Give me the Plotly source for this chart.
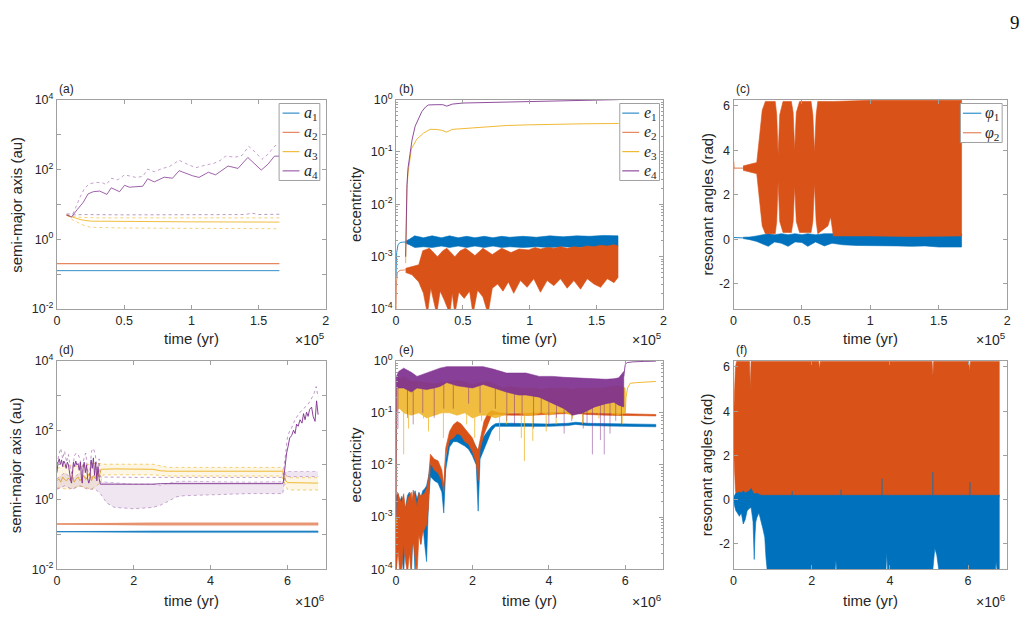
import numpy as np
import plotly.graph_objects as go
from plotly.subplots import make_subplots

W, H = 1030, 622
BLUE, ORANGE, YELLOW, PURPLE = '#0072BD', '#D95319', '#EDB120', '#7E2F8E'
AXC = '#a0a0a0'
TXT = '#262626'
S5, S6 = 1e5, 1e6  # time units: top row x 1e5 yr, bottom row x 1e6 yr

# ======================= (a) semi-major axis, short run =======================
ta_12 = [0.0, 1.655]
a1_a = [0.126, 0.126]
a2_a = [0.200, 0.200]
ta3 = [0.072, 0.12, 0.18, 0.25, 0.5, 1.0, 1.655]
a3_a = [4.9, 4.3, 3.6, 3.3, 3.2, 3.15, 3.1]
ta3_apo = [0.072, 0.15, 0.3, 1.655]
a3_apo = [4.9, 4.3, 4.1, 4.1]
ta3_peri = [0.072, 0.12, 0.2, 0.25, 0.5, 1.655]
a3_peri = [4.9, 3.5, 2.5, 2.2, 2.1, 2.0]
ta4 = [0.072, 0.108, 0.15, 0.195, 0.232, 0.27, 0.318, 0.372, 0.404, 0.466, 0.503, 0.539,
       0.638, 0.675, 0.724, 0.798, 0.86, 0.909, 1.008, 1.057, 1.126, 1.18, 1.273, 1.347,
       1.42, 1.52, 1.57, 1.618, 1.655]
a4_a = [5.0, 4.3, 7.0, 11.3, 20, 23, 24, 19.3, 29.7, 23, 35, 31, 33, 54, 44, 60, 56, 92, 66, 59,
        83, 70, 125, 107, 220, 96, 141, 240, 240]
ta4_apo = [0.072, 0.121, 0.170, 0.207, 0.244, 0.293, 0.342, 0.367, 0.404, 0.453, 0.503, 0.589,
           0.638, 0.675, 0.724, 0.786, 0.835, 0.909, 0.958, 1.032, 1.106, 1.168, 1.217, 1.254,
           1.328, 1.377, 1.426, 1.476, 1.525, 1.574, 1.623, 1.655]
a4_apo = [5.3, 5.5, 15.5, 29.7, 39, 42.5, 41, 36.6, 56, 50.5, 70, 59, 63, 102, 86, 107, 120, 183,
          148, 112, 133, 150, 183, 240, 225, 252, 460, 310, 195, 282, 480, 500]
ta4_peri = [0.072, 0.2, 0.5, 1.0, 1.4, 1.45, 1.5, 1.655]
a4_peri = [4.9, 5.1, 5.0, 5.0, 5.1, 5.6, 5.1, 5.2]

# ======================= (b) eccentricity, short run ==========================
tb_e1s = [0, 0.005, 0.015, 0.03, 0.05, 0.072]
e1_bs = [4e-4, 1.2e-3, 1.7e-3, 1.85e-3, 1.9e-3, 1.9e-3]
tb_e1 = [0.072, 0.1, 0.14, 0.205, 0.27, 0.34, 0.40, 0.465, 0.53, 0.59, 0.66, 0.725, 0.79, 0.85,
         0.95, 1.05, 1.15, 1.25, 1.35, 1.45, 1.55, 1.66]
e1_b_hi = [2.0e-3, 2.15e-3, 2.5e-3, 2.3e-3, 2.5e-3, 2.3e-3, 2.5e-3, 2.3e-3, 2.45e-3, 2.3e-3, 2.45e-3,
           2.3e-3, 2.45e-3, 2.35e-3, 2.45e-3, 2.35e-3, 2.5e-3, 2.4e-3, 2.5e-3, 2.45e-3, 2.55e-3, 2.5e-3]
e1_b_lo = [1.8e-3, 1.7e-3, 1.5e-3, 1.55e-3, 1.5e-3, 1.6e-3, 1.5e-3, 1.6e-3, 1.5e-3, 1.6e-3, 1.5e-3,
           1.6e-3, 1.5e-3, 1.55e-3, 1.5e-3, 1.55e-3, 1.5e-3, 1.55e-3, 1.5e-3, 1.55e-3, 1.5e-3, 1.55e-3]
tb_e2s = [0, 0.003, 0.01, 0.03, 0.072]
e2_bs = [1e-4, 3e-4, 5e-4, 5.5e-4, 5.6e-4]
tb_e2u = [0.072, 0.12, 0.17, 0.20, 0.25, 0.31, 0.35, 0.38, 0.44, 0.48, 0.52, 0.59, 0.65, 0.72,
          0.79, 0.86, 0.92, 0.99, 1.04, 1.08, 1.13, 1.18, 1.23, 1.28, 1.33, 1.38, 1.43, 1.48,
          1.53, 1.58, 1.63, 1.66]
e2_b_hi = [6.0e-4, 6.5e-4, 7e-4, 1.3e-3, 1.45e-3, 1.0e-3, 1.3e-3, 1.45e-3, 1.0e-3, 1.3e-3,
           1.45e-3, 1.05e-3, 1.45e-3, 1.1e-3, 1.45e-3, 1.2e-3, 1.4e-3, 1.35e-3, 1.5e-3, 1.4e-3,
           1.5e-3, 1.45e-3, 1.55e-3, 1.45e-3, 1.55e-3, 1.5e-3, 1.6e-3, 1.55e-3, 1.65e-3, 1.6e-3,
           1.7e-3, 1.6e-3]
tb_e2l = [0.072, 0.12, 0.17, 0.205, 0.235, 0.26, 0.29, 0.304, 0.33, 0.36, 0.403, 0.42, 0.44,
          0.47, 0.51, 0.55, 0.576, 0.61, 0.65, 0.688, 0.72, 0.76, 0.8, 0.84, 0.88, 0.93, 0.98,
          1.03, 1.08, 1.13, 1.18, 1.23, 1.28, 1.33, 1.38, 1.43, 1.48, 1.53, 1.58, 1.63, 1.66]
e2_b_lo = [5.0e-4, 4.5e-4, 3.3e-4, 2.0e-4, 0.8e-4, 2.5e-4, 1.2e-4, 0.8e-4, 2.2e-4, 1.5e-4,
           0.8e-4, 2.0e-4, 0.8e-4, 2.1e-4, 1.6e-4, 2.2e-4, 0.8e-4, 2.3e-4, 1.7e-4, 0.8e-4,
           2.5e-4, 3.0e-4, 2.2e-4, 3.3e-4, 2.0e-4, 3.5e-4, 2.6e-4, 3.8e-4, 2.1e-4, 3.5e-4,
           2.8e-4, 3.8e-4, 2.5e-4, 3.5e-4, 2.4e-4, 3.8e-4, 3.0e-4, 2.6e-4, 3.8e-4, 3.2e-4, 4.0e-4]
tb_e3 = [0.072, 0.076, 0.082, 0.09, 0.1, 0.115, 0.156, 0.206, 0.255, 0.3, 0.34, 0.379, 0.42,
         0.5, 0.576, 0.7, 0.824, 1.0, 1.2, 1.4, 1.666]
e3_b = [7.5e-4, 4e-3, 0.02, 0.04, 0.06, 0.115, 0.176, 0.23, 0.27, 0.27, 0.26, 0.24, 0.27, 0.28,
        0.29, 0.31, 0.32, 0.33, 0.34, 0.345, 0.35]
tb_e4 = [0.072, 0.074, 0.082, 0.09, 0.106, 0.12, 0.143, 0.17, 0.193, 0.22, 0.242, 0.3, 0.35,
         0.38, 0.42, 0.5, 0.6, 0.7, 0.824, 1.0, 1.2, 1.4, 1.666]
e4_b = [1.0e-3, 3e-3, 0.024, 0.05, 0.1, 0.17, 0.31, 0.45, 0.59, 0.72, 0.79, 0.8, 0.8, 0.75, 0.82,
        0.86, 0.87, 0.88, 0.9, 0.93, 0.95, 0.97, 1.0]

# ======================= (c) resonant angles, short run =======================
tc_p1s = [0, 0.07]
p1_cs = [0.08, 0.06]
tc_p1 = [0.07, 0.12, 0.17, 0.21, 0.254, 0.3, 0.35, 0.399, 0.45, 0.5, 0.543, 0.6, 0.664, 0.72,
         0.8, 0.9, 1.0, 1.1, 1.2, 1.3, 1.4, 1.5, 1.6, 1.667]
p1_c_hi = [0.09, 0.1, 0.15, 0.2, 0.25, 0.2, 0.25, 0.2, 0.25, 0.2, 0.25, 0.2, 0.25, 0.25, 0.25,
           0.25, 0.25, 0.25, 0.25, 0.25, 0.25, 0.25, 0.25, 0.25]
p1_c_lo = [0.03, -0.02, -0.1, -0.2, -0.32, -0.12, -0.18, -0.32, -0.12, -0.15, -0.32, -0.12,
           -0.3, -0.18, -0.25, -0.28, -0.3, -0.3, -0.3, -0.32, -0.3, -0.35, -0.35, -0.35]
tc_p2s = [0, 0.001, 0.003, 0.07]
p2_cs = [0.8, 3.5, 3.2, 3.2]
tc_p2 = [0.07, 0.17, 0.19, 0.21, 0.233, 0.305, 0.316, 0.326, 0.338, 0.362, 0.423, 0.436, 0.447,
         0.459, 0.483, 0.567, 0.58, 0.592, 0.604, 0.616, 0.69, 0.71, 0.73, 1.0, 1.3, 1.667]
p2_c_hi = [3.3, 3.45, 4.6, 5.8, 6.2, 6.2, 5.6, 3.8, 5.6, 6.2, 6.2, 5.7, 4.0, 5.7, 6.2, 6.2, 5.6,
           3.9, 5.6, 6.2, 6.2, 6.2, 6.2, 6.25, 6.25, 6.25]
p2_c_lo = [3.1, 2.95, 1.8, 0.6, 0.25, 0.25, 0.8, 2.6, 0.8, 0.3, 0.3, 0.8, 2.4, 0.8, 0.3, 0.3, 0.8,
           2.5, 0.8, 0.25, 0.6, 1.0, 0.15, 0.15, 0.12, 0.15]

# ======================= (d) semi-major axis, long run ========================
td_a1 = [0, 1.5, 2.5, 6.8]
a1_d = [0.12, 0.12, 0.12, 0.12]
a1_d_hi = [0.121, 0.124, 0.127, 0.127]
a1_d_lo = [0.119, 0.116, 0.113, 0.113]
td_a2 = [0, 1.0, 2.5, 6.8]
a2_d = [0.2, 0.2, 0.2, 0.2]
a2_d_hi = [0.202, 0.205, 0.22, 0.22]
a2_d_lo = [0.198, 0.195, 0.18, 0.18]
td_a3 = [0, 0.05, 0.1, 0.15, 0.2, 0.25, 0.3, 0.35, 0.4, 0.45, 0.5, 0.55, 0.6, 0.65, 0.7, 0.75,
         0.8, 0.85, 0.9, 0.95, 1.0, 1.05, 1.1, 1.15, 1.5, 2.0, 2.5, 2.7, 2.9, 3.5, 4.5, 5.5,
         5.88, 5.92, 5.96, 6.0, 6.05, 6.8]
a3_d = [3.5, 4, 3.2, 4.5, 3.8, 3.5, 4.2, 3.5, 5, 3.2, 4, 4.5, 3.5, 4.2, 5, 3.8, 4.5, 6, 3.5, 5,
        4, 6, 4.5, 7.5, 7.7, 7.6, 7.5, 6.8, 6.6, 6.6, 6.7, 6.7, 6.6, 4, 3.5, 3.1, 3.1, 3.0]
td_a3c = [0, 0.3, 0.6, 0.9, 1.13, 1.2, 2.5, 2.7, 2.9, 5.85, 5.92, 6.0, 6.1, 6.8]
a3c_hi = [8, 10, 9, 11, 11, 10.5, 10.5, 9.5, 8.5, 8.5, 6, 4.5, 4.3, 4.3]
a3c_lo = [2.2, 2.0, 2.5, 2.0, 3.0, 5.2, 5.2, 5.0, 4.8, 4.8, 3, 2.0, 1.9, 1.9]
td_a4 = [0.0, 0.03, 0.06, 0.09, 0.12, 0.15, 0.18, 0.21, 0.24, 0.27,
         0.30, 0.33, 0.36, 0.38, 0.40, 0.43, 0.46, 0.49, 0.52, 0.55,
         0.58, 0.61, 0.64, 0.66, 0.68, 0.71, 0.74, 0.77, 0.80, 0.83,
         0.86, 0.89, 0.92, 0.95, 0.98, 1.01, 1.04, 1.07, 1.10, 1.13,
         1.5, 2.0, 2.5, 2.7, 3.0, 3.5, 4.0, 4.5, 5.0, 5.5,
         5.85, 5.89, 5.93, 5.98, 6.02, 6.06, 6.11, 6.16, 6.2, 6.24,
         6.28, 6.33, 6.38, 6.42, 6.46, 6.5, 6.54, 6.58, 6.63, 6.67,
         6.72, 6.76, 6.8]
a4_d = [6, 12, 15, 10, 14, 9, 13, 11, 8, 12,
        10, 5, 3.5, 3, 6, 12, 9, 13, 10, 11,
        7, 12, 4, 3, 8, 12, 6, 10, 4, 3,
        4, 14, 8, 16, 5, 12, 3.5, 9, 4, 2.8,
        2.8, 2.75, 2.8, 2.9, 2.9, 2.85, 2.85, 2.9, 2.85, 2.9,
        2.9, 3.0, 8, 22, 35, 60, 70, 100, 80, 150,
        130, 200, 160, 300, 200, 330, 250, 400, 460, 250,
        180, 700, 280]
td_a4apo = [0, 0.05, 0.1, 0.15, 0.2, 0.25, 0.3, 0.35, 0.4, 0.45, 0.5, 0.55, 0.6, 0.65, 0.7, 0.75,
            0.8, 0.85, 0.9, 0.95, 1.0, 1.05, 1.1, 1.13, 2.0, 3.0, 4.0, 5.0, 5.88, 5.92, 5.96, 6.0,
            6.05, 6.1, 6.2, 6.3, 6.4, 6.5, 6.6, 6.7, 6.75, 6.8]
a4apo_d = [10, 20, 30, 15, 25, 12, 20, 8, 5, 18, 22, 20, 15, 6, 15, 22, 7, 5, 25, 30, 20, 6, 15,
           4.5, 4.4, 4.3, 4.4, 4.4, 4.4, 10, 30, 60, 90, 110, 200, 300, 400, 500, 700, 1200, 1800,
           900]
td_a4p = [0, 0.2, 0.4, 0.6, 0.8, 1.0, 1.13, 1.3, 1.5, 2.0, 2.5, 2.7, 2.9, 3.1, 3.3, 4.0, 5.0, 5.6,
          5.88, 5.92, 5.96, 6.8]
a4p_hi = [4, 6, 4, 6, 4, 5, 3.3, 3.2, 3.0, 2.8, 2.8, 2.6, 3.0, 3.3, 3.4, 3.3, 3.2, 3.3, 3.3, 4.0,
          6.5, 6.5]
a4p_lo = [2, 2.5, 2, 2.5, 2, 2, 1.5, 0.8, 0.6, 0.55, 0.6, 0.7, 0.9, 1.2, 1.3, 1.4, 1.5, 1.5, 1.5,
          3.0, 4.6, 4.6]

# ======================= (e) eccentricity, long run ===========================
te12 = [0, 0.05, 0.1, 0.15, 0.2, 0.25, 0.3, 0.35, 0.4, 0.42, 0.45, 0.5, 0.55, 0.6, 0.65, 0.7,
        0.75, 0.8, 0.85, 0.9, 1.0, 1.1, 1.2, 1.25, 1.3, 1.4, 1.5, 1.6, 1.7, 1.8, 1.9, 2.0, 2.1,
        2.15, 2.2, 2.3, 2.4, 2.5, 2.6, 2.7, 3.0, 3.5, 4.0, 4.5, 4.7, 5.0, 5.5, 6.0, 6.5, 6.8]
e1_e_hi = [2.5e-3, 2.8e-3, 2.0e-3, 2.5e-3, 1.8e-3, 1.5e-3, 2.6e-3, 3.0e-3, 2.2e-3, 1.5e-3,
           2.5e-3, 3.2e-3, 2.2e-3, 3.0e-3, 2.4e-3, 3.2e-3, 3.5e-3, 4e-3, 6e-3, 1.05e-2,
           9e-3, 8e-3, 6e-3, 3.5e-3, 1.2e-2, 3.5e-2, 4.5e-2, 4.5e-2, 4.2e-2, 4.0e-2,
           3.5e-2, 3.0e-2, 2.2e-2, 1.8e-2, 2.5e-2, 3.5e-2, 4.5e-2, 5.5e-2, 6.2e-2, 6.3e-2,
           6.3e-2, 6.2e-2, 6.1e-2, 6.3e-2, 6.6e-2, 6.3e-2, 6.2e-2, 6.1e-2, 6.1e-2, 6.0e-2]
e1_e_lo = [8e-5, 3e-4, 6e-4, 2e-4, 8e-5, 5e-4, 8e-4, 4e-4, 8e-5, 2e-4,
           6e-4, 8e-5, 5e-4, 8e-4, 3e-4, 8e-4, 3e-4, 1.4e-4, 2.0e-3, 6e-3,
           5e-3, 4.5e-3, 3e-3, 1.2e-3, 8e-3, 2.2e-2, 2.8e-2, 2.8e-2, 2.5e-2, 2.3e-2,
           2.0e-2, 1.5e-2, 1.0e-2, 1.3e-3, 1.3e-2, 2.0e-2, 3.0e-2, 4.5e-2, 5.5e-2, 5.6e-2,
           5.6e-2, 5.5e-2, 5.5e-2, 5.7e-2, 6.0e-2, 5.7e-2, 5.6e-2, 5.5e-2, 5.5e-2, 5.4e-2]
e2_e_hi = [8e-4, 2.9e-3, 2.2e-3, 1.9e-3, 2.8e-3, 1.4e-3, 2.2e-3, 2.5e-3, 3.0e-3, 2.0e-3,
           3.3e-3, 2.5e-3, 1.6e-3, 2.9e-3, 2.5e-3, 2.7e-3, 2.9e-3, 3.5e-3, 5e-3, 1.6e-2,
           1.3e-2, 1.2e-2, 8e-3, 4e-3, 2.1e-2, 4.4e-2, 5.9e-2, 6.8e-2, 6.2e-2, 5.0e-2,
           4.1e-2, 3.3e-2, 2.1e-2, 2.0e-2, 3.0e-2, 6.8e-2, 9.7e-2, 0.11, 0.105, 0.1,
           0.097, 0.097, 0.1, 0.105, 0.105, 0.1, 0.097, 0.095, 0.094, 0.093]
e2_e_lo = [8e-5, 2.5e-4, 8e-5, 1e-4, 3e-4, 1.4e-4, 8e-5, 2e-4, 8e-5, 2.5e-4,
           3.4e-4, 1.5e-4, 8e-5, 4.5e-4, 3e-4, 5e-4, 6e-4, 7e-4, 1.5e-3, 1.1e-2,
           8e-3, 7e-3, 5e-3, 3e-3, 1.5e-2, 3e-2, 3.3e-2, 4e-2, 3.7e-2, 2.8e-2,
           2.5e-2, 1.8e-2, 1.1e-2, 5e-3, 2e-2, 3.8e-2, 6e-2, 9e-2, 9.3e-2, 9.2e-2,
           0.09, 0.09, 0.092, 0.097, 0.098, 0.093, 0.09, 0.088, 0.088, 0.087]
te3s = [0.0, 0.01, 0.02]
e3_es = [7.5e-4, 0.05, 0.3]
te3 = [0.02, 0.05, 0.1, 0.2, 0.4, 0.6, 0.8, 1.0, 1.2, 1.4, 1.6, 1.8, 2.0, 2.2, 2.4, 2.6, 2.8,
       3.0, 3.2, 3.4, 3.6, 3.8, 4.0, 4.2, 4.4, 4.6, 4.8, 5.0, 5.2, 5.4, 5.6, 5.8, 6.0]
e3_e_hi = [0.3, 0.5, 0.45, 0.5, 0.4, 0.4, 0.38, 0.36, 0.38, 0.4, 0.42, 0.4, 0.35, 0.38, 0.4, 0.35,
           0.3, 0.32, 0.3, 0.3, 0.3, 0.28, 0.3, 0.3, 0.3, 0.28, 0.3, 0.3, 0.3, 0.3, 0.32, 0.33, 0.3]
e3_e_lo = [0.1, 0.12, 0.12, 0.1, 0.09, 0.1, 0.08, 0.09, 0.1, 0.1, 0.09, 0.1, 0.08, 0.09, 0.09,
           0.08, 0.09, 0.1, 0.1, 0.09, 0.09, 0.1, 0.09, 0.1, 0.1, 0.09, 0.1, 0.1, 0.1, 0.1, 0.1,
           0.09, 0.1]
te3_sp = [0.2, 0.33, 0.72, 0.85, 1.07, 1.24, 1.59, 1.85, 2.06, 2.24, 2.37, 2.71, 2.89, 3.28, 3.36,
          3.58, 3.93, 4.19, 4.62, 4.88, 5.31, 5.66, 5.92]
e3_sp = [0.016, 0.05, 0.078, 0.044, 0.09, 0.033, 0.09, 0.06, 0.033, 0.07, 0.09, 0.029, 0.06,
         0.033, 0.012, 0.029, 0.044, 0.06, 0.078, 0.06, 0.078, 0.09, 0.06]
te3t = [6.0, 6.02, 6.06, 6.13, 6.3, 6.5, 6.8]
e3_et = [0.1, 0.2, 0.3, 0.37, 0.38, 0.39, 0.4]
te4s = [0.0, 0.005, 0.01]
e4_es = [1.0e-3, 0.05, 0.5]
te4 = [0.01, 0.07, 0.2, 0.4, 0.55, 0.8, 1.0, 1.15, 1.33, 1.6, 2.0, 2.28, 2.54, 2.89, 3.2, 3.4,
       3.75, 4.1, 4.4, 4.62, 4.9, 5.2, 5.49, 5.7, 5.83, 5.96]
e4_e_hi = [0.5, 0.62, 0.72, 0.6, 0.5, 0.58, 0.65, 0.72, 0.77, 0.77, 0.77, 0.77, 0.69, 0.58, 0.58,
           0.58, 0.5, 0.5, 0.48, 0.47, 0.46, 0.45, 0.44, 0.45, 0.47, 0.62]
e4_e_lo = [0.3, 0.3, 0.3, 0.25, 0.3, 0.28, 0.3, 0.32, 0.38, 0.33, 0.3, 0.35, 0.3, 0.25, 0.22,
           0.22, 0.2, 0.15, 0.12, 0.09, 0.1, 0.13, 0.15, 0.16, 0.14, 0.13]
te4_sp = [0.05, 0.3, 0.45, 0.7, 1.0, 1.25, 1.5, 1.9, 2.2, 2.6, 2.9, 3.1, 3.3, 3.6, 3.8, 4.0, 4.2,
          4.4, 4.6, 4.9, 5.0, 5.14, 5.35, 5.45, 5.6, 5.75, 5.9]
e4_sp = [0.05, 0.08, 0.06, 0.1, 0.08, 0.12, 0.12, 0.15, 0.1, 0.12, 0.07, 0.06, 0.09, 0.05, 0.1,
         0.06, 0.08, 0.04, 0.07, 0.05, 0.06, 0.016, 0.03, 0.016, 0.04, 0.07, 0.06]
te4t = [5.96, 5.98, 6.0, 6.05, 6.2, 6.5, 6.8]
e4_et = [0.5, 0.67, 0.85, 0.92, 0.95, 0.97, 0.98]

# ======================= (f) resonant angles, long run ========================
tf_p2u = [0.0, 0.02, 0.05, 0.08, 0.41, 0.43, 0.45, 2.18, 2.2, 2.22, 5.08, 5.1, 5.12, 6.02, 6.04,
          6.06, 6.8]
p2_f_hi = [3.6, 4.5, 6.0, 6.25, 6.25, 5.0, 6.25, 6.25, 5.9, 6.25, 6.25, 5.6, 6.25, 6.25, 5.8,
           6.25, 6.25]
tf_p2l = [0.0, 0.02, 0.05, 0.08, 6.8]
p2_f_lo = [2.4, 1.5, 0.4, 0.15, 0.15]
tf_p1 = [0, 0.03, 0.06, 0.1, 0.15, 0.2, 0.25, 0.3, 0.35, 0.4, 0.45, 0.5, 0.53, 0.55, 0.57, 0.6,
         0.65, 0.7, 0.75, 0.8, 0.83, 0.86, 0.9, 2.6, 2.62, 2.64, 3.9, 3.92, 3.94, 5.1, 5.15, 5.2,
         5.25, 6.7, 6.72, 6.74, 6.8]
p1_f_hi = [0.1, 0.2, 0.3, 0.3, 0.35, 0.3, 0.4, 0.3, 0.35, 0.4, 0.5, 0.3, 0.25, 0.3, 0.25, 0.3,
           0.25, 0.2, 0.2, 0.2, 0.2, 0.2, 0.2, 0.2, 0.2, 0.2, 0.2, 0.2, 0.2, 0.2, 0.2, 0.2, 0.2,
           0.2, 0.2, 0.2, 0.2]
p1_f_lo = [0, -0.3, -0.5, -0.6, -0.75, -0.6, -1.1, -0.9, -0.5, -0.4, -0.35, -1.0, -2.7, -1.6,
           -1.0, -0.8, -0.6, -0.9, -1.3, -1.7, -2.6, -3.15, -3.15, -3.15, -2.75, -3.15, -3.15,
           -2.4, -3.15, -3.15, -2.2, -2.5, -3.15, -3.15, -2.8, -3.15, -3.15]
tf_p1_sp = [0.45, 1.5, 2.75, 3.8, 5.1, 6.05]
p1_f_sp = [0.45, 0.4, 0.45, 0.95, 1.25, 0.8]

# legend labels
leg_a = ['a', 'a', 'a', 'a']
leg_b = ['e', 'e', 'e', 'e']
leg_c = ['φ', 'φ']

# ------------------------------------------------------------------------------
def rgba(h, a):
    h = h.lstrip('#')
    return 'rgba(%d,%d,%d,%.3f)' % (int(h[0:2], 16), int(h[2:4], 16), int(h[4:6], 16), a)


def line(t, v, color, scale, width=1.0, alpha=1.0, dash=None, name=None):
    return go.Scatter(x=np.asarray(t) * scale, y=v, mode='lines', name=name,
                      showlegend=False, hoverinfo='skip',
                      line=dict(color=rgba(color, alpha), width=width, dash=dash))


def band(tu, up, tl, lo, color, scale, alpha=1.0, width=0.6, name=None):
    x = np.concatenate([np.asarray(tu, float), np.asarray(tl, float)[::-1]]) * scale
    y = np.concatenate([np.asarray(up, float), np.asarray(lo, float)[::-1]])
    return go.Scatter(x=x, y=y, mode='lines', fill='toself', fillcolor=rgba(color, alpha),
                      line=dict(color=rgba(color, alpha), width=width), hoverinfo='skip',
                      showlegend=False, name=name)


def spikes(ts, tips, tb, base, color, scale, log=True, alpha=0.8, width=1.0):
    xs, ys = [], []
    for t, tip in zip(ts, tips):
        if log:
            b = 10 ** np.interp(t, tb, np.log10(base))
        else:
            b = np.interp(t, tb, base)
        xs += [t * scale, t * scale, None]
        ys += [b, tip, None]
    return go.Scatter(x=xs, y=ys, mode='lines', hoverinfo='skip', showlegend=False,
                      line=dict(color=rgba(color, alpha), width=width))


fig = make_subplots(rows=2, cols=3)

def add(tr, r, c):
    fig.add_trace(tr, row=r, col=c)

# (a)
add(line(ta_12, a1_a, BLUE, S5, 1, 0.8, name='a1'), 1, 1)
add(line(ta_12, a2_a, ORANGE, S5, 1.4, 0.7, name='a2'), 1, 1)
add(line(ta3, a3_a, YELLOW, S5, 1, 0.85, name='a3'), 1, 1)
add(line(ta3_apo, a3_apo, YELLOW, S5, 1, 0.6, 'dot'), 1, 1)
add(line(ta3_peri, a3_peri, YELLOW, S5, 1, 0.6, 'dot'), 1, 1)
add(line(ta4, a4_a, PURPLE, S5, 1, 0.75, name='a4'), 1, 1)
add(line(ta4_apo, a4_apo, PURPLE, S5, 1, 0.45, 'dot'), 1, 1)
add(line(ta4_peri, a4_peri, PURPLE, S5, 1, 0.5, 'dot'), 1, 1)

# (b)
add(line(tb_e1s, e1_bs, BLUE, S5, 1, 0.8, name='e1'), 1, 2)
add(band(tb_e1, e1_b_hi, tb_e1, e1_b_lo, BLUE, S5), 1, 2)
add(line(tb_e2s, e2_bs, ORANGE, S5, 1, 0.7, name='e2'), 1, 2)
add(band(tb_e2u, e2_b_hi, tb_e2l, e2_b_lo, ORANGE, S5), 1, 2)
add(line(tb_e3, e3_b, YELLOW, S5, 1, 0.9, name='e3'), 1, 2)
add(line(tb_e4, e4_b, PURPLE, S5, 1, 0.85, name='e4'), 1, 2)

# (c)
add(line(tc_p1s, p1_cs, BLUE, S5, 1, 0.9, name='phi1'), 1, 3)
add(band(tc_p1, p1_c_hi, tc_p1, p1_c_lo, BLUE, S5), 1, 3)
add(line(tc_p2s, p2_cs, ORANGE, S5, 1, 0.8, name='phi2'), 1, 3)
add(band(tc_p2, p2_c_hi, tc_p2, p2_c_lo, ORANGE, S5), 1, 3)

# (d)
add(band(td_a1, a1_d_hi, td_a1, a1_d_lo, BLUE, S6, 0.55, 0.5), 2, 1)
add(line(td_a1, a1_d, BLUE, S6, 1, 0.9), 2, 1)
add(band(td_a2, a2_d_hi, td_a2, a2_d_lo, ORANGE, S6, 0.35, 0.5), 2, 1)
add(line(td_a2, a2_d, ORANGE, S6, 1, 0.8), 2, 1)
add(band(td_a3c, a3c_hi, td_a3c, a3c_lo, YELLOW, S6, 0.12, 0.1), 2, 1)
add(line(td_a3c, a3c_hi, YELLOW, S6, 1, 0.6, 'dot'), 2, 1)
add(line(td_a3c, a3c_lo, YELLOW, S6, 1, 0.6, 'dot'), 2, 1)
add(line(td_a3, a3_d, YELLOW, S6, 1, 0.9), 2, 1)
add(band(td_a4p, a4p_hi, td_a4p, a4p_lo, PURPLE, S6, 0.12, 0.1), 2, 1)
add(line(td_a4p, a4p_lo, PURPLE, S6, 1, 0.4, 'dot'), 2, 1)
add(line(td_a4p, a4p_hi, PURPLE, S6, 1, 0.3, 'dot'), 2, 1)
add(line(td_a4apo, a4apo_d, PURPLE, S6, 1, 0.5, 'dot'), 2, 1)
add(line(td_a4, a4_d, PURPLE, S6, 1, 0.9), 2, 1)

# (e)
add(band(te12, e1_e_hi, te12, e1_e_lo, BLUE, S6), 2, 2)
add(band(te12, e2_e_hi, te12, e2_e_lo, ORANGE, S6), 2, 2)
add(line(te3s, e3_es, YELLOW, S6, 1, 0.9), 2, 2)
add(band(te3, e3_e_hi, te3, e3_e_lo, YELLOW, S6, 0.85), 2, 2)
add(spikes(te3_sp, e3_sp, te3, e3_e_lo, YELLOW, S6, True, 0.75), 2, 2)
add(line(te3t, e3_et, YELLOW, S6, 1, 0.9), 2, 2)
add(line(te4s, e4_es, PURPLE, S6, 1, 0.8), 2, 2)
add(band(te4, e4_e_hi, te4, e4_e_lo, PURPLE, S6, 0.92), 2, 2)
add(spikes(te4_sp, e4_sp, te4, e4_e_lo, PURPLE, S6, True, 0.5), 2, 2)
add(line(te4t, e4_et, PURPLE, S6, 1, 0.85), 2, 2)

# (f)
add(band(tf_p2u, p2_f_hi, tf_p2l, p2_f_lo, ORANGE, S6), 2, 3)
add(band(tf_p1, p1_f_hi, tf_p1, p1_f_lo, BLUE, S6), 2, 3)
add(spikes(tf_p1_sp, p1_f_sp, tf_p1, p1_f_hi, BLUE, S6, False, 0.9), 2, 3)

# ------------------------------------------------------------------------------
COLS = [(54.3, 325.0), (395.7, 665.0), (735.5, 1011.0)]
ROWS = [(93.0, 308.0), (361.0, 575.0)]

def xdom(c):
    return [COLS[c][0] / W, COLS[c][1] / W]

def ydom(r):
    return [1 - ROWS[r][1] / H, 1 - ROWS[r][0] / H]

TICKFONT = dict(family='Liberation Sans, Arial, sans-serif', size=12.5, color=TXT)
base_ax = dict(showline=True, linecolor=AXC, linewidth=1, mirror='ticks', ticks='inside',
               ticklen=4, tickcolor=AXC, tickwidth=1, showgrid=False, zeroline=False,
               tickfont=TICKFONT)

def sup(e):
    return '10<sup>%d</sup>' % e

minor_dec = [k * 10.0 ** d for d in range(-4, 0) for k in range(2, 10)]

for r in range(2):
    for c in range(3):
        i = r * 3 + c + 1
        xs = 'xaxis' if i == 1 else 'xaxis%d' % i
        ys = 'yaxis' if i == 1 else 'yaxis%d' % i
        if r == 0:
            xa = dict(base_ax, domain=xdom(c), range=[0, 2 * S5],
                      tickvals=[0, 0.5 * S5, S5, 1.5 * S5, 2 * S5],
                      ticktext=['0', '0.5', '1', '1.5', '2'])
        else:
            xa = dict(base_ax, domain=xdom(c), range=[0, 7 * S6],
                      tickvals=[0, 2 * S6, 4 * S6, 6 * S6], ticktext=['0', '2', '4', '6'])
        if c == 0:
            ya = dict(base_ax, domain=ydom(r), type='log', range=[-2, 4],
                      tickvals=[10.0 ** e for e in range(-2, 5)],
                      ticktext=[sup(e) if e % 2 == 0 else '' for e in range(-2, 5)])
        elif c == 1:
            ya = dict(base_ax, domain=ydom(r), type='log', range=[-4, 0],
                      tickvals=[10.0 ** e for e in range(-4, 1)],
                      ticktext=[sup(e) for e in range(-4, 1)],
                      minor=dict(tickvals=minor_dec, ticks='inside', ticklen=2,
                                 tickcolor=AXC, showgrid=False))
        else:
            ya = dict(base_ax, domain=ydom(r), range=[-np.pi, 2 * np.pi],
                      tickvals=[-2, 0, 2, 4, 6], ticktext=['-2', '0', '2', '4', '6'])
        fig.layout[xs].update(xa)
        fig.layout[ys].update(ya)

ann = []
shapes = []
FONT = dict(family='Liberation Sans, Arial, sans-serif', size=15, color=TXT)
ylabels = ['semi-major axis (au)', 'eccentricity', 'resonant angles (rad)']
ylab_x = [13.5, 355.0, 709.0]
letters = [['(a)', '(b)', '(c)'], ['(d)', '(e)', '(f)']]
xt_y = [338.0, 607.0]
exps = ['×10<sup>5</sup>', '×10<sup>6</sup>']
for r in range(2):
    yc = (ROWS[r][0] + ROWS[r][1]) / 2
    for c in range(3):
        ann.append(dict(text=ylabels[c], x=ylab_x[c] / W, y=1 - yc / H, xref='paper', yref='paper',
                        textangle=-90, showarrow=False, font=FONT, xanchor='center', yanchor='middle'))
        xc = (COLS[c][0] + COLS[c][1]) / 2
        ann.append(dict(text='time (yr)', x=xc / W, y=1 - xt_y[r] / H, xref='paper', yref='paper',
                        showarrow=False, font=FONT, xanchor='center', yanchor='middle'))
        ann.append(dict(text=exps[r], x=(COLS[c][1] + 1) / W, y=1 - (xt_y[r] + 1) / H,
                        xref='paper', yref='paper', showarrow=False,
                        font=dict(FONT, size=14), xanchor='right', yanchor='middle'))
        ann.append(dict(text=letters[r][c], x=(COLS[c][0] + 0.5) / W, y=1 - (ROWS[r][0] - 2) / H,
                        xref='paper', yref='paper', showarrow=False,
                        font=dict(family='Liberation Sans, Arial, sans-serif', size=12, color=TXT),
                        xanchor='left', yanchor='bottom'))
ann.append(dict(text='9', x=1019 / W, y=1 - 14 / H, xref='paper', yref='paper', showarrow=False,
                font=dict(family='Liberation Serif, serif', size=19, color='#111'),
                xanchor='center', yanchor='middle'))

# boxed legends (MATLAB style): box (x0, y0, x1, y1), symbol start/end, text x
LEGENDS = [
    ((278, 97, 319, 176), (281.5, 298.5), 301, leg_a, [BLUE, ORANGE, YELLOW, PURPLE], [0.8, 0.7, 0.85, 0.75]),
    ((621, 97, 661, 176), (623.5, 640.5), 643, leg_b, [BLUE, ORANGE, YELLOW, PURPLE], [0.8, 0.7, 0.9, 0.85]),
    ((964, 97, 1006, 137), (966.5, 985), 987, leg_c, [BLUE, ORANGE], [0.8, 0.7]),
]
LFONT = dict(family='Liberation Serif, DejaVu Serif, serif', size=16, color=TXT)
for (x0, y0, x1, y1), (l0, l1), tx, labels, cols, alphas in LEGENDS:
    shapes.append(dict(type='rect', xref='paper', yref='paper', x0=x0 / W, x1=x1 / W,
                       y0=1 - y1 / H, y1=1 - y0 / H, line=dict(color=AXC, width=1),
                       fillcolor='white', layer='above'))
    n = len(labels)
    step = (y1 - y0) / n
    for k in range(n):
        yy = y0 + step * (k + 0.5)
        shapes.append(dict(type='line', xref='paper', yref='paper', x0=l0 / W, x1=l1 / W,
                           y0=1 - yy / H, y1=1 - yy / H,
                           line=dict(color=rgba(cols[k], alphas[k]), width=1.2), layer='above'))
        ann.append(dict(text='<i>%s</i><sub>%d</sub>' % (labels[k], k + 1), x=tx / W,
                        y=1 - (yy + 0.5) / H, xref='paper', yref='paper', showarrow=False,
                        font=LFONT, xanchor='left', yanchor='middle'))

fig.update_layout(
    width=W, height=H, autosize=False, margin=dict(l=0, r=0, t=0, b=0),
    paper_bgcolor='white', plot_bgcolor='white', showlegend=False,
    font=dict(family='Liberation Sans, Arial, sans-serif', size=12, color=TXT),
    annotations=ann, shapes=shapes,
)

fig.write_html('out.html')
